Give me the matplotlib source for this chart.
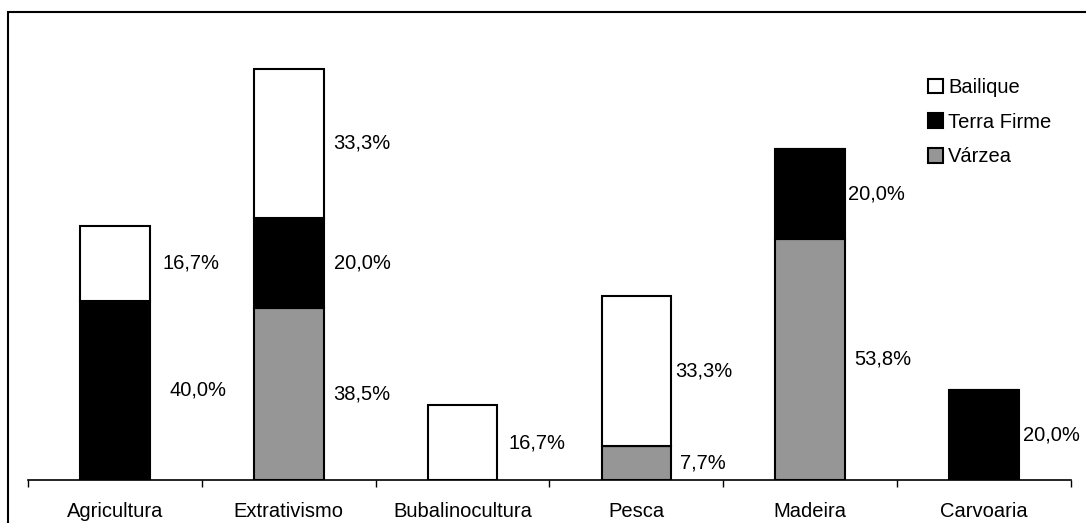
import numpy as np
import matplotlib
matplotlib.use('Agg')
import matplotlib.pyplot as plt
from matplotlib.patches import Rectangle

plt.rcParams['font.family'] = ['Liberation Sans', 'DejaVu Sans']

categorias = ['Agricultura', 'Extrativismo', 'Bubalinocultura', 'Pesca', 'Madeira', 'Carvoaria']
varzea = [0.0, 38.5, 0.0, 7.7, 53.8, 0.0]
terra_firme = [40.0, 20.0, 0.0, 0.0, 20.0, 20.0]
bailique = [16.7, 33.3, 16.7, 33.3, 0.0, 0.0]

# distância dos rótulos à direita da barra (pixels)
desloc = {
    'Várzea': [0, 10, 0, 9, 9, 0],
    'Terra Firme': [20, 10, 0, 0, 3, 4],
    'Bailique': [13, 10, 11, 4, 0, 0],
}

fs = 14.5
fig = plt.figure(figsize=(10.86, 5.23), dpi=100)
W, H = 1086, 523
ax = fig.add_axes([28 / W, (H - 480) / H, (1071 - 28) / W, (480 - 32) / H])

x = np.arange(len(categorias))
largura = 0.40
series = [('Várzea', varzea, '#969696'),
          ('Terra Firme', terra_firme, '#000000'),
          ('Bailique', bailique, '#ffffff')]

base = np.zeros(len(categorias))
handles = {}
for nome, vals, cor in series:
    vals = np.array(vals)
    b = ax.bar(x, vals, largura, bottom=base, color=cor, edgecolor='black',
               linewidth=1.5, label=nome)
    handles[nome] = b
    for i, v in enumerate(vals):
        if v > 0:
            ax.annotate(f'{v:.1f}%'.replace('.', ','),
                        xy=(x[i] + largura / 2, base[i] + v / 2),
                        xytext=(desloc[nome][i] * 0.72, 0), textcoords='offset points',
                        ha='left', va='center', fontsize=fs)
    base = base + vals

ax.set_xlim(-0.5, len(categorias) - 0.5)
ax.set_ylim(0, 100)
ax.set_yticks([])
for s in ['left', 'right', 'top']:
    ax.spines[s].set_visible(False)
ax.spines['bottom'].set_linewidth(1.2)
ax.set_xticks(x)
ax.set_xticklabels(categorias, fontsize=fs)
ax.tick_params(axis='x', length=0, pad=16)
ax.set_xticks(np.arange(len(categorias) + 1) - 0.5, minor=True)
ax.tick_params(axis='x', which='minor', length=5, width=1, color='black')

leg = ax.legend([handles['Bailique'], handles['Terra Firme'], handles['Várzea']],
                ['Bailique', 'Terra Firme', 'Várzea'],
                loc='upper left', bbox_to_anchor=((928 - 28) / (1071 - 28), (480 - 78) / (480 - 32)),
                frameon=False, fontsize=fs, handlelength=0.75, handleheight=0.75,
                handletextpad=0.25, labelspacing=0.78, borderpad=0, borderaxespad=0)

# moldura do gráfico
fig.patches.append(Rectangle((8 / W, -0.1), 1.2, (H - 12) / H + 0.1,
                             transform=fig.transFigure, fill=False,
                             edgecolor='black', linewidth=1.5))

fig.savefig('out.png', dpi=100)
